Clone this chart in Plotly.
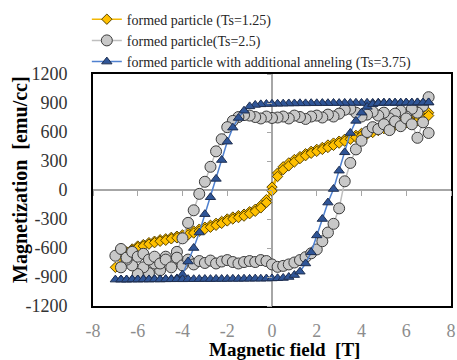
import plotly.graph_objects as go

# Applied field sweeps [T]
field_down = [7.0, 6.75, 6.5, 6.25, 6.0, 5.75, 5.5, 5.25, 5.0, 4.75, 4.5, 4.25, 4.0, 3.75, 3.5, 3.25,
              3.0, 2.75, 2.5, 2.25, 2.0, 1.75, 1.5, 1.25, 1.0, 0.75, 0.5, 0.25, 0.0, -0.25, -0.5, -0.75,
              -1.0, -1.25, -1.5, -1.75, -2.0, -2.25, -2.5, -2.75, -3.0, -3.25, -3.5, -3.75, -4.0, -4.25,
              -4.5, -4.75, -5.0, -5.25, -5.5, -5.75, -6.0, -6.25, -6.5, -6.75, -7.0]
field_up = [-6.75, -6.5, -6.25, -6.0, -5.75, -5.5, -5.25, -5.0, -4.75, -4.5, -4.25, -4.0, -3.75, -3.5,
            -3.25, -3.0, -2.75, -2.5, -2.25, -2.0, -1.75, -1.5, -1.25, -1.0, -0.75, -0.5, -0.25, 0.0,
            0.25, 0.5, 0.75, 1.0, 1.25, 1.5, 1.75, 2.0, 2.25, 2.5, 2.75, 3.0, 3.25, 3.5, 3.75, 4.0,
            4.25, 4.5, 4.75, 5.0, 5.25, 5.5, 5.75, 6.0, 6.25, 6.5, 6.75, 7.0]

# Ts = 1.25 (yellow diamonds)
m125_down = [800, 750, 730, 720, 710, 700, 690, 670, 655, 635, 615, 600, 585, 565, 545, 525,
             505, 485, 465, 440, 420, 400, 375, 345, 315, 280, 240, 175, 30, -100, -160, -200,
             -225, -250, -265, -280, -300, -325, -345, -365, -385, -405, -425, -445, -465, -478,
             -490, -505, -515, -530, -545, -565, -580, -610, -640, -680, -800]
m125_up = [-710, -660, -625, -595, -580, -560, -545, -530, -520, -505, -495, -485, -465, -445,
           -425, -405, -385, -365, -345, -320, -300, -285, -270, -245, -220, -185, -130, -10,
           140, 210, 250, 290, 325, 355, 380, 400, 420, 440, 462, 485, 505, 525, 545, 560,
           578, 595, 615, 635, 655, 670, 685, 695, 705, 715, 730, 770]

# Ts = 2.5 (gray circles)
m25_down = [960, 870, 800, 840, 760, 820, 790, 740, 800, 770, 810, 780, 760, 800, 840, 830,
            790, 760, 780, 750, 770, 760, 735, 755, 770, 740, 760, 750, 745, 760, 740, 755,
            770, 775, 755, 715, 650, 525, 400, 240, 85, -40, -210, -340, -500, -640,
            -740, -690, -830, -760, -860, -800, -870, -780, -720, -800, -680]
m25_up = [-610, -700, -640, -690, -660, -720, -690, -760, -720, -800, -700, -780, -720, -770,
          -735, -755, -730, -760, -740, -725, -745, -760, -745, -735, -745, -725, -735, -770,
          -795, -785, -770, -750, -725, -695, -655, -615, -530, -440, -350, -190, 90, 280, 420, 510,
          600, 650, 630, 680, 620, 710, 660, 740, 680, 540, 700, 590]

# Ts = 3.75 (blue triangles)
m375_down = [905, 903, 906, 902, 904, 903, 901, 904, 902, 903, 901, 902, 900, 902, 900, 901,
             899, 900, 898, 899, 897, 898, 896, 897, 895, 895, 893, 892, 891, 889, 886, 880,
             865, 820, 745, 645, 500, 310, 115, -75, -250, -440, -600, -740, -875, -915,
             -922, -924, -925, -924, -926, -925, -926, -925, -927, -926, -927]
m375_up = [-926, -927, -925, -926, -924, -925, -924, -925, -923, -924, -923, -924, -922, -923,
           -922, -921, -922, -920, -921, -920, -919, -920, -918, -919, -917, -918, -916, -915,
           -913, -910, -900, -880, -845, -760, -645, -470, -300, -130, 10, 200, 390, 590, 715, 800,
           860, 888, 898, 901, 902, 903, 902, 904, 903, 905, 904, 906]

x_ticks = [-8, -6, -4, -2, 0, 2, 4, 6, 8]
x_tick_text = ["-8", "-6", "-4", "-2", "0", "2", "4", "6", "8"]
y_ticks = [-1200, -900, -600, -300, 0, 300, 600, 900, 1200]
y_tick_text = ["-1200", "-900", "-600", "-300", "0", "300", "600", "900", "1200"]

names = ["formed particle (Ts=1.25)", "formed particle(Ts=2.5)",
         "formed particle with additional anneling (Ts=3.75)"]

SERIF = "Liberation Serif"

fig = go.Figure()
fig.add_trace(go.Scatter(
    x=field_down + field_up, y=m125_down + m125_up, name=names[0], mode="lines+markers",
    line=dict(color="#F2B705", width=1.5),
    marker=dict(symbol="diamond", size=8, color="#FFC000", line=dict(color="#5A4500", width=1)),
    legendgroup="a"))
fig.add_trace(go.Scatter(
    x=field_down + field_up, y=m25_down + m25_up, name=names[1], mode="lines+markers",
    line=dict(color="#BFBFBF", width=1.5),
    marker=dict(symbol="circle", size=11, color="#C8C8C8", line=dict(color="#3A3A3A", width=1)),
    legendgroup="b"))
fig.add_trace(go.Scatter(
    x=field_down + field_up, y=m375_down + m375_up, name=names[2], mode="lines+markers",
    line=dict(color="#4F81D0", width=1.5),
    marker=dict(symbol="triangle-up", size=9, color="#2F5597", line=dict(color="#1F2F50", width=1)),
    legendgroup="c"))
# dummy trace carrying the tick-mark axes drawn on the zero lines
fig.add_trace(go.Scatter(x=[None], y=[None], xaxis="x2", yaxis="y2", showlegend=False,
                         hoverinfo="skip"))

fig.update_layout(
    width=457, height=360,
    margin=dict(l=93, r=6, t=74, b=54, autoexpand=False),
    paper_bgcolor="white", plot_bgcolor="white",
    showlegend=True,
    legend=dict(xref="container", yref="container", x=0.19, xanchor="left", y=0.99,
                yanchor="top", orientation="v",
                font=dict(family=SERIF, size=14, color="#262626"),
                bgcolor="rgba(0,0,0,0)", traceorder="grouped", tracegroupgap=0,
                itemwidth=30),
    xaxis=dict(range=[-8, 8], tickvals=x_ticks, ticktext=x_tick_text, showgrid=False,
               showline=True, mirror=True,
               linecolor="black", linewidth=2, ticks="", zeroline=True,
               zerolinecolor="#A6A6A6", zerolinewidth=1.5,
               tickfont=dict(family=SERIF, size=18, color="#8C8C8C"),
               ticklabelstandoff=7),
    yaxis=dict(range=[-1200, 1200], tickvals=y_ticks, ticktext=y_tick_text, showgrid=False,
               showline=True, mirror=True,
               linecolor="black", linewidth=2, ticks="", zeroline=True,
               zerolinecolor="#A6A6A6", zerolinewidth=1.5,
               tickfont=dict(family=SERIF, size=18, color="#333333"),
               ticklabelstandoff=20),
    xaxis2=dict(range=[-8, 8], tickvals=x_ticks, overlaying="x", anchor="free", position=0.5,
                side="bottom", ticks="outside", ticklen=5, tickcolor="#A6A6A6", tickwidth=1,
                showticklabels=False, showline=False, showgrid=False, zeroline=False),
    yaxis2=dict(range=[-1200, 1200], tickvals=y_ticks, overlaying="y", anchor="free",
                position=0.5, side="left", ticks="outside", ticklen=5, tickcolor="#A6A6A6",
                tickwidth=1, showticklabels=False, showline=False, showgrid=False,
                zeroline=False),
    annotations=[
        dict(text="<b>Magnetic field\u00a0\u00a0[T]</b>", xref="paper", yref="paper",
             x=0.5, y=0, xanchor="center", yanchor="middle", xshift=12, yshift=-43,
             showarrow=False, font=dict(family=SERIF, size=19, color="black")),
        dict(text="<b>Magnetization\u00a0\u00a0[emu/cc]</b>", xref="paper", yref="paper",
             x=0, y=0.5, xanchor="center", yanchor="middle", xshift=-73, yshift=10,
             textangle=-90, showarrow=False, font=dict(family=SERIF, size=20, color="black")),
    ],
)

fig.write_html("out.html", config={"displayModeBar": False},
               post_script="document.body.style.margin='0px';document.body.style.padding='0px';")
